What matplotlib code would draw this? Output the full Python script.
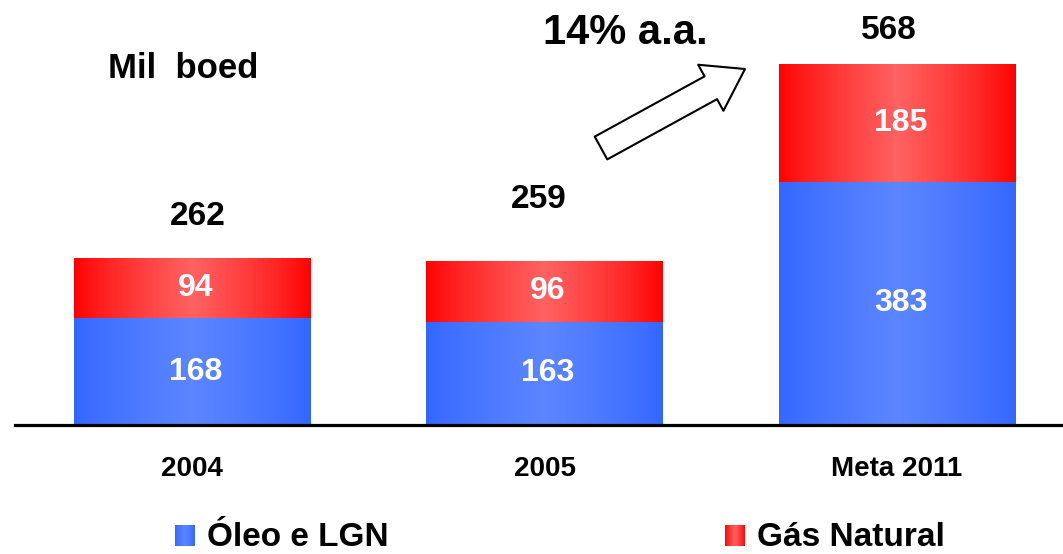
import numpy as np
import matplotlib
matplotlib.use("Agg")
from matplotlib import pyplot as plt
from matplotlib.patches import FancyArrowPatch

plt.rcParams['font.family'] = ['Liberation Sans', 'DejaVu Sans']
plt.rcParams['font.weight'] = 'bold'

# dados
anos = ['2004', '2005', 'Meta 2011']
oleo = [168, 163, 383]
gas = [94, 96, 185]
totais = [262, 259, 568]

# deslocamento dos totais acima das barras (pontos)
desl_total = [(4, 30), (-4, 44), (-6, 24)]

azul_borda = np.array([0x33, 0x66, 0xFF]) / 255
azul_meio = np.array([0x5C, 0x86, 0xFF]) / 255
verm_borda = np.array([0xFF, 0x00, 0x00]) / 255
verm_meio = np.array([0xFF, 0x62, 0x62]) / 255


def gradiente(borda, meio, n=200):
    t = np.linspace(0, 1, n)
    t = 1 - np.abs(2 * t - 1)
    t = t ** 0.8
    img = borda[None, :] + (meio - borda)[None, :] * t[:, None]
    return img[None, :, :]


fig = plt.figure(figsize=(10.63, 5.54), dpi=100)
ax = fig.add_axes([0, 125 / 554, 1, 429 / 554])

x = np.arange(len(anos))
largura = 0.67
b1 = ax.bar(x, oleo, largura, color='none', edgecolor='none')
b2 = ax.bar(x, gas, largura, bottom=oleo, color='none', edgecolor='none')

for barras, borda, meio in [(b1, azul_borda, azul_meio), (b2, verm_borda, verm_meio)]:
    for r in barras:
        x0, y0 = r.get_x(), r.get_y()
        w, h = r.get_width(), r.get_height()
        ax.imshow(gradiente(borda, meio), extent=[x0, x0 + w, y0, y0 + h],
                  aspect='auto', zorder=1, interpolation='bilinear')

ax.set_xlim(-192 / 352.5, (1063 - 192) / 352.5)
escala = 0.641
ax.set_ylim(-4 / escala, 429 / escala)
ax.axis('off')

# linha de base
ax.axhline(0, xmin=15 / 1063, xmax=1, color='black', lw=2.3, zorder=3)

for i in range(len(anos)):
    ax.text(x[i] + 0.01, oleo[i] / 2, str(oleo[i]), ha='center', va='center',
            color='white', fontsize=23, fontweight='bold', zorder=4)
    ax.text(x[i] + 0.01, oleo[i] + gas[i] / 2, str(gas[i]), ha='center', va='center',
            color='white', fontsize=23, fontweight='bold', zorder=4)
    ax.annotate(str(totais[i]), (x[i], totais[i]), xytext=desl_total[i],
                textcoords='offset points', ha='center', va='center',
                fontsize=24, fontweight='bold', color='black')
    ax.text(x[i], -69, anos[i], ha='center', va='center',
            fontsize=20, fontweight='bold', clip_on=False)

fig.text(108 / 1063, 1 - 69 / 554, 'Mil  boed', ha='left', va='center',
         fontsize=25, fontweight='bold')
fig.text(543 / 1063, 1 - 33 / 554, '14% a.a.', ha='left', va='center',
         fontsize=30, fontweight='bold')

# seta
seta = FancyArrowPatch((601, 554 - 148), (745, 554 - 69), transform=None,
                       arrowstyle='simple,tail_width=0.52,head_width=1.05,head_length=0.78',
                       mutation_scale=36, facecolor='white', edgecolor='black',
                       lw=1.5, shrinkA=0, shrinkB=0)
fig.patches.append(seta)

# legenda
for (x0, txt, borda, meio) in [(175, 'Óleo e LGN', azul_borda, azul_meio),
                               (725, 'Gás Natural', verm_borda, verm_meio)]:
    ax_l = fig.add_axes([x0 / 1063, 1 - 546 / 554, 20 / 1063, 21 / 554])
    ax_l.imshow(gradiente(borda, meio), aspect='auto', extent=[0, 1, 0, 1])
    ax_l.axis('off')
    fig.text((x0 + 32) / 1063, 1 - 538 / 554, txt, ha='left', va='center',
             fontsize=24, fontweight='bold')

fig.savefig('out.png', dpi=100)
